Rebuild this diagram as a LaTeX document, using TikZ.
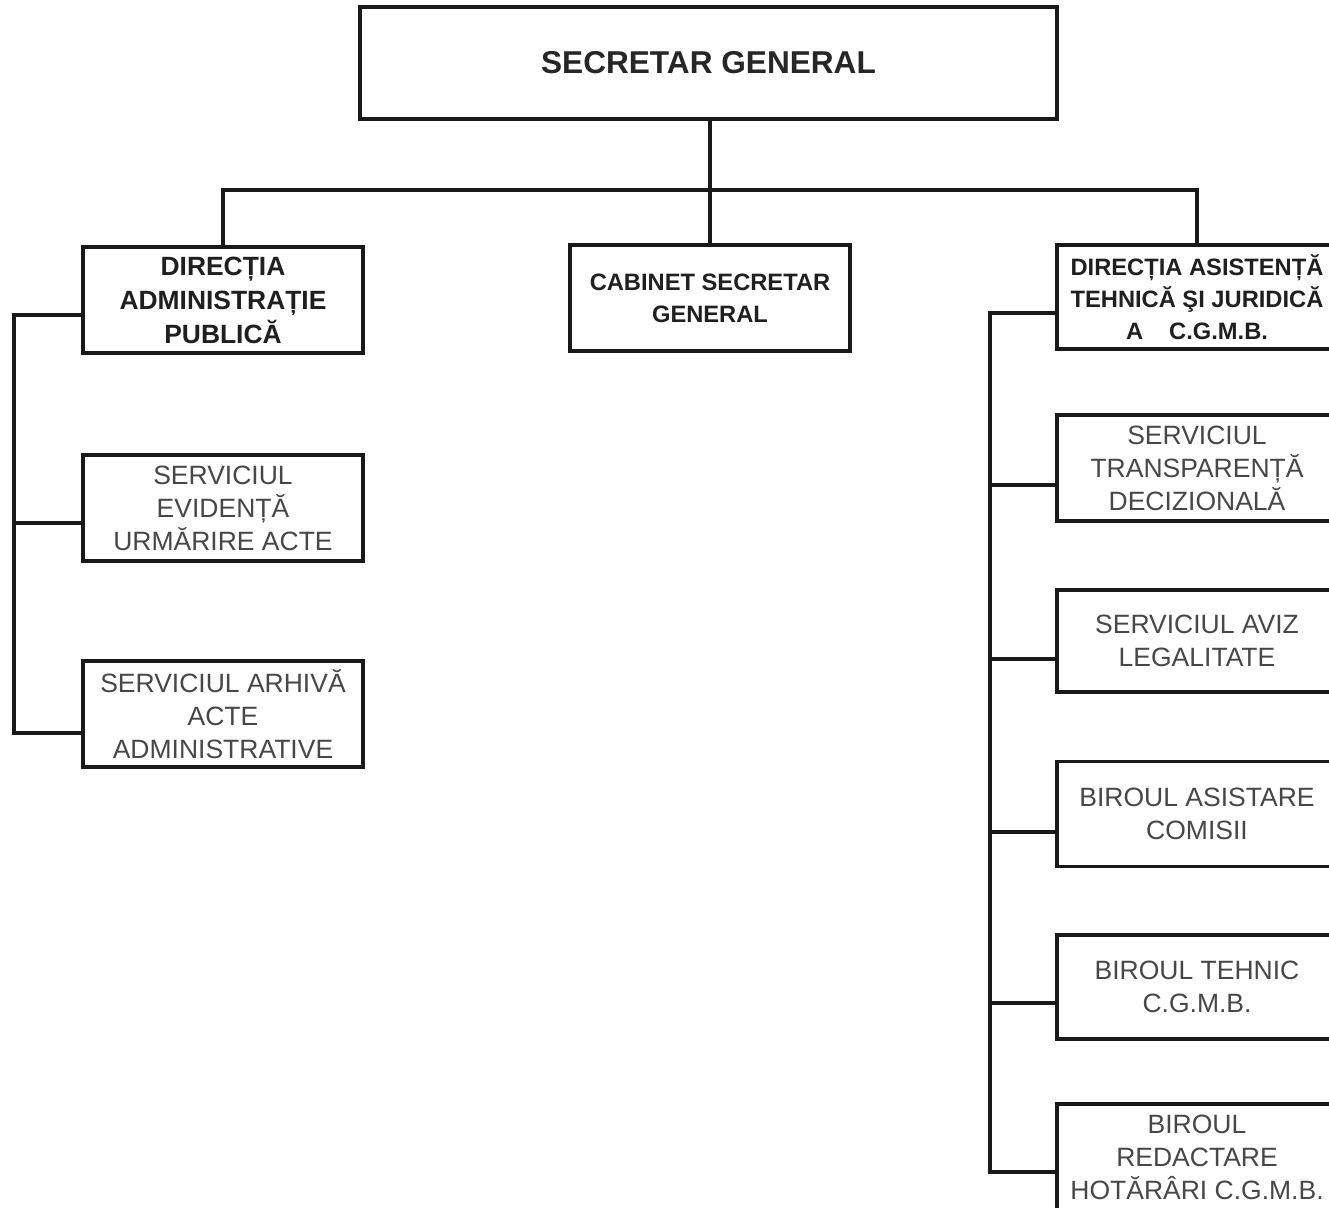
\documentclass[tikz,border=0pt]{standalone}
\usepackage{fontspec}
\setmainfont{Liberation Sans}
\begin{document}
\begin{tikzpicture}[x=1pt,y=-1pt,
  box/.style={draw=black!90,line width=3.4pt,rectangle,inner sep=0pt,
    minimum width=280pt,minimum height=106pt,align=center},
  reg/.style={box,text=black!72,font=\fontsize{26.5}{33}\selectfont},
  bld/.style={box,text=black!88,font=\fontsize{23.7}{32}\selectfont\bfseries},
  conn/.style={draw=black!90,line width=3.4pt}]
\useasboundingbox (0,0) rectangle (1329,1207);
\clip (0,0) rectangle (1329,1207);
% top
\node[box,minimum width=697pt,minimum height=112pt,text=black!85,
  font=\fontsize{31.6}{36}\selectfont\bfseries] (sg) at (708.5,63) {SECRETAR GENERAL};
% level 2
\node[bld,font=\fontsize{26.4}{34}\selectfont\bfseries] (dap) at (223,300)
  {DIRECȚIA\\ADMINISTRAȚIE\\PUBLICĂ};
\node[bld] (cab) at (710,298) {CABINET SECRETAR\\GENERAL};
\node[bld,minimum height=104pt] (datj) at (1197,297)
  {DIRECȚIA ASISTENȚĂ\\TEHNICĂ ŞI JURIDICĂ\\A\hspace{1.1em}C.G.M.B.};
% left column
\node[reg] (sev) at (223,508) {SERVICIUL\\EVIDENȚĂ\\URMĂRIRE ACTE};
\node[reg] (sarh) at (223,714) {SERVICIUL ARHIVĂ\\ACTE\\ADMINISTRATIVE};
% right column
\node[reg] (stra) at (1197,468) {SERVICIUL\\TRANSPARENȚĂ\\DECIZIONALĂ};
\node[reg,minimum height=102pt] (saviz) at (1197,641) {SERVICIUL AVIZ\\LEGALITATE};
\node[reg,minimum height=105pt] (bac) at (1197,814) {BIROUL ASISTARE\\COMISII};
\node[reg,minimum height=104pt] (bteh) at (1197,987) {BIROUL TEHNIC\\C.G.M.B.};
\node[reg] (bred) at (1197,1157) {BIROUL\\REDACTARE\\HOTĂRÂRI C.G.M.B.};
% coordinates
\coordinate (bus) at (709,190);
\coordinate (lt) at (14,0);
\coordinate (rt) at (990,0);
\coordinate (pdap) at ([yshift=-15pt]dap.west);
\coordinate (psev) at ([yshift=-15pt]sev.west);
\coordinate (psarh) at ([yshift=-19pt]sarh.west);
\coordinate (pdatj) at ([yshift=-16pt]datj.west);
\coordinate (pstra) at ([yshift=-17pt]stra.west);
\coordinate (paviz) at ([yshift=-18pt]saviz.west);
\coordinate (pbac) at ([yshift=-18pt]bac.west);
\coordinate (pbteh) at ([yshift=-16pt]bteh.west);
\coordinate (pbred) at ([yshift=-15pt]bred.west);
% connectors
\draw[conn] (cab.north) -- (cab.north |- sg.south);
\draw[conn] (dap.north) |- (bus) -| (datj.north);
\draw[conn] (pdap) -| (lt |- psarh) -- (psarh);
\draw[conn] (psev) -- (lt |- psev);
\draw[conn] (pdatj) -| (rt |- pbred) -- (pbred);
\draw[conn] (pstra) -- (rt |- pstra);
\draw[conn] (paviz) -- (rt |- paviz);
\draw[conn] (pbac) -- (rt |- pbac);
\draw[conn] (pbteh) -- (rt |- pbteh);
\end{tikzpicture}
\end{document}
